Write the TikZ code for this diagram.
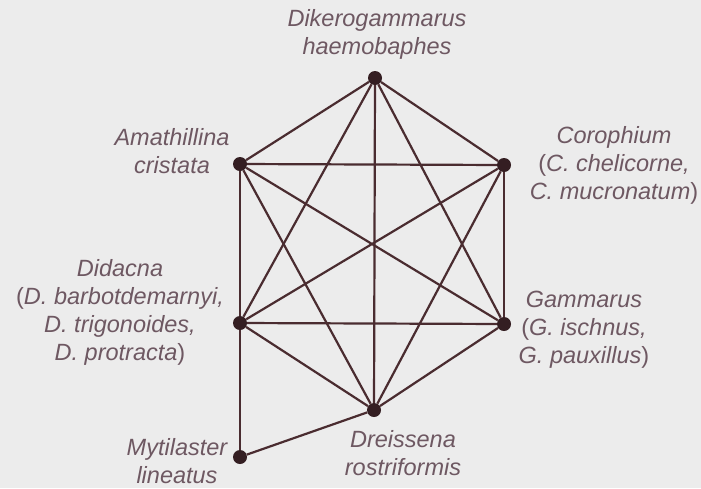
\documentclass[tikz,border=0pt]{standalone}
\usepackage{fontspec}
\setmainfont{Liberation Sans}
\definecolor{edgebrown}{RGB}{74,44,48}
\definecolor{dotbrown}{RGB}{52,30,34}
\definecolor{labelmauve}{RGB}{110,88,98}
\definecolor{paper}{RGB}{236,236,236}

\tikzset{
  taxon/.style={circle, fill=dotbrown, inner sep=0pt, minimum size=14pt},
  link/.style={edgebrown, line width=2.2pt},
  taxonlabel/.style={text=labelmauve, font=\fontsize{23.5}{28}\selectfont\itshape,
    align=center, anchor=base, inner sep=0pt},
}

\begin{document}
\begin{tikzpicture}[x=1pt, y=-1pt]
  \fill[paper] (0,0) rectangle (701,488);
  \useasboundingbox (0,0) rectangle (701,488);
  % species
  \node[taxon] (dk) at (375,78) {};
  \node[taxon] (am) at (240,164) {};
  \node[taxon] (co) at (504,165) {};
  \node[taxon] (di) at (240,323) {};
  \node[taxon] (ga) at (504,324) {};
  \node[taxon] (dr) at (374,410) {};
  \node[taxon] (my) at (240,457) {};
  % links
  \foreach \a/\b in {dk/am, dk/co, dk/di, dk/ga, dk/dr,
                     am/co, am/di, am/ga, am/dr,
                     co/di, co/ga, co/dr,
                     di/ga, di/dr, ga/dr,
                     di/my, my/dr}
    \draw[link] (\a) -- (\b);
  % names (anchored at the baseline of the last line)
  \node[taxonlabel] (dkname) at (377,54) {Dikerogammarus\\haemobaphes};
  \node[taxonlabel] (amname) at (172,173) {Amathillina\\cristata};
  \node[taxonlabel] (coname) at (614,199) {Corophium\\\textup{(}C. chelicorne,\\C. mucronatum\textup{)}};
  \node[taxonlabel] (diname) at (120,360) {Didacna\\\textup{(}D. barbotdemarnyi,\\D. trigonoides,\\D. protracta\textup{)}};
  \node[taxonlabel] (ganame) at (584,363) {Gammarus\\\textup{(}G. ischnus,\\G. pauxillus\textup{)}};
  \node[taxonlabel] (drname) at (403,475) {Dreissena\\rostriformis};
  \node[taxonlabel] (myname) at (177,483) {Mytilaster\\lineatus};
\end{tikzpicture}
\end{document}
